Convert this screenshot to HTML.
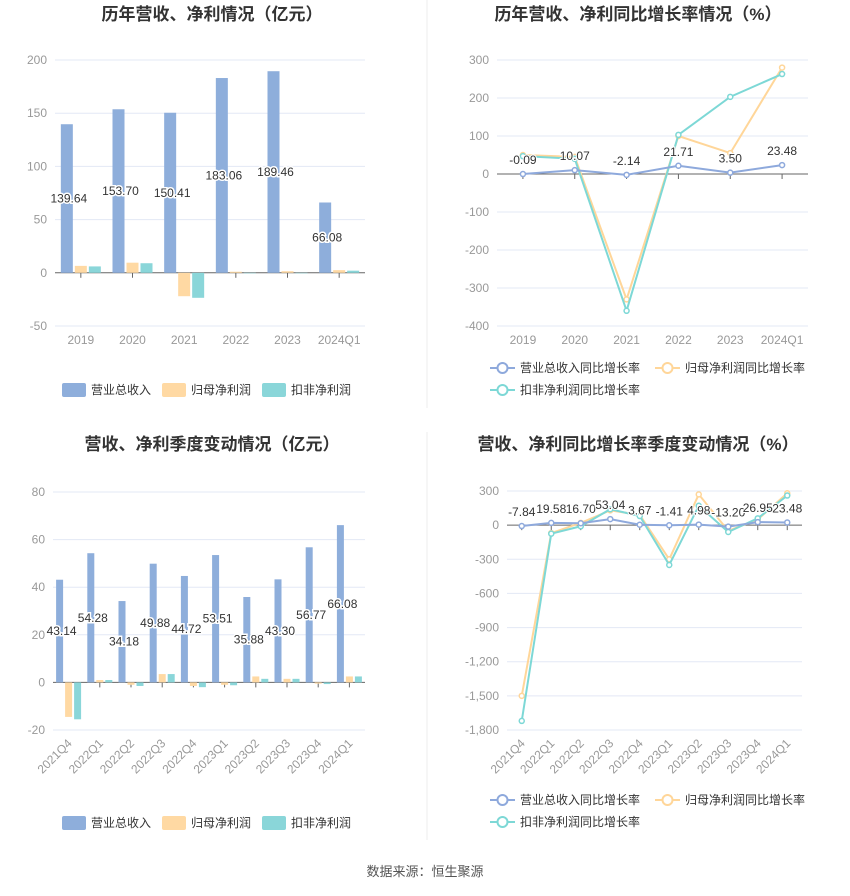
<!DOCTYPE html>
<html><head><meta charset="utf-8"><style>
body{margin:0;background:#fff;font-family:"Liberation Sans","Noto Sans CJK SC",sans-serif}
svg text{font-family:"Liberation Sans","Noto Sans CJK SC",sans-serif}
</style></head><body>
<svg id="s" width="850" height="891" xmlns="http://www.w3.org/2000/svg">
<line x1="427" y1="0" x2="427" y2="408" stroke="#eee"/>
<line x1="427" y1="432" x2="427" y2="840" stroke="#eee"/>
<text x="212" y="20" text-anchor="middle" font-size="17" font-weight="bold" fill="#333">历年营收、净利情况（亿元）</text>
<text x="638" y="20" text-anchor="middle" font-size="17" font-weight="bold" fill="#333">历年营收、净利同比增长率情况（%）</text>
<text x="212" y="450" text-anchor="middle" font-size="17" font-weight="bold" fill="#333">营收、净利季度变动情况（亿元）</text>
<text x="638" y="450" text-anchor="middle" font-size="17" font-weight="bold" fill="#333">营收、净利同比增长率季度变动情况（%）</text>
<text x="425" y="876" text-anchor="middle" font-size="13" fill="#555">数据来源：恒生聚源</text>
</svg>
<script>
const yearCats=["2019","2020","2021","2022","2023","2024Q1"];
const yearRev=[139.64,153.70,150.41,183.06,189.46,66.08];
const yearNet=[6.5,9.5,-22,1,1.5,2.5];
const yearDed=[6,9,-23.5,0,0,2];
const yearTicks=[200,150,100,50,0,-50];
const yearRevG=[-0.09,10.07,-2.14,21.71,3.50,23.48];
const yearNetG=[50,45,-330,100,55,280];
const yearDedG=[47,40,-360,103,203,263];
const yearGTicks=[300,200,100,0,-100,-200,-300,-400];
const qCats=["2021Q4","2022Q1","2022Q2","2022Q3","2022Q4","2023Q1","2023Q2","2023Q3","2023Q4","2024Q1"];
const qRev=[43.14,54.28,34.18,49.88,44.72,53.51,35.88,43.30,56.77,66.08];
const qNet=[-14.5,1,-1,3.5,-1.5,-1,2.5,1.5,-0.5,2.5];
const qDed=[-15.5,1,-1.5,3.5,-2,-1.2,1.5,1.5,-0.7,2.5];
const qTicks=[80,60,40,20,0,-20];
const qRevG=[-7.84,19.58,16.70,53.04,3.67,-1.41,4.98,-13.20,26.95,23.48];
const qNetG=[-1500,-70,20,130,90,-300,270,-50,50,280];
const qDedG=[-1720,-75,-10,140,80,-350,170,-60,60,260];
const qGTicks=[300,0,-300,-600,-900,-1200,-1500,-1800];

const svg=document.getElementById('s');const NS="http://www.w3.org/2000/svg";
function mk(t,a,txt){const e=document.createElementNS(NS,t);for(const k in a)e.setAttribute(k,a[k]);if(txt!==undefined)e.textContent=txt;svg.appendChild(e);return e;}
const BLUE="#8eaedb",ORG="#ffd9a3",TEAL="#8ad6d9",LB="#8ea9dc",LO="#ffd699",LT="#7dd8d6";
function fmt(v){return Math.abs(v)>=1000?v.toLocaleString('en-US'):String(v);}

function axes(x0,x1,yTop,yBot,ticks,cats,rot,pre){
 const max=ticks[0],min=ticks[ticks.length-1];
 const y=v=>yTop+(max-v)/(max-min)*(yBot-yTop);
 const w=(x1-x0)/cats.length;const cx=i=>x0+w*(i+0.5);
 ticks.forEach(t=>{
  if(t!==0){const l=mk('line',{x1:x0,x2:x1,y1:y(t),y2:y(t),stroke:'#e3e8f5'});
   
   }
  const tx=mk('text',{x:x0-8,y:y(t)+4,'text-anchor':'end','font-size':12,fill:'#999'},fmt(t));
  
  
 });
 const ax=mk('line',{x1:x0,x2:x1,y1:y(0),y2:y(0),stroke:'#666'});
 
 
 cats.forEach((c,i)=>{
  mk('line',{x1:cx(i),x2:cx(i),y1:y(0),y2:y(0)+5,stroke:'#666'});
  let t;
  if(rot){t=mk('text',{x:cx(i)+4,y:yBot+14,'text-anchor':'end','font-size':12,fill:'#999',transform:`rotate(-45 ${cx(i)+4} ${yBot+14})`},c);}
  else t=mk('text',{x:cx(i),y:yBot+18,'text-anchor':'middle','font-size':12,fill:'#999'},c);
  
  
 });
 return {y,cx,w};
}
function bars(x0,x1,yTop,yBot,ticks,cats,rev,net,ded,bw,rot,pre){
 const {y,cx}=axes(x0,x1,yTop,yBot,ticks,cats,rot,pre);
 const series=[[rev,BLUE,'revenue'],[net,ORG,'net-profit'],[ded,TEAL,'deducted-profit']];
 cats.forEach((c,i)=>{
  series.forEach((s,k)=>{
   const v=s[0][i];const bx=cx(i)+(k-1)*(bw+2)-bw/2;
   const r=mk('rect',{x:bx,y:Math.min(y(v),y(0)),width:bw,height:Math.max(Math.abs(y(v)-y(0)),0.5),fill:s[1]});
   
   
  });
  const bxc=cx(i)-(bw+2);
  const t=mk('text',{x:bxc+2,y:(y(rev[i])+y(0))/2+4,'text-anchor':'middle','font-size':12,fill:'#333',stroke:'#fff','stroke-width':3,'paint-order':'stroke'},rev[i].toFixed(2));
  
  
 });
}
function lines(x0,x1,yTop,yBot,ticks,cats,a,b,c,rot,pre){
 const {y,cx}=axes(x0,x1,yTop,yBot,ticks,cats,rot,pre);
 [[b,LO,'net-growth'],[c,LT,'deducted-growth'],[a,LB,'revenue-growth']].forEach(s=>{
  const p=mk('polyline',{points:s[0].map((v,i)=>cx(i)+','+y(v)).join(' '),fill:'none',stroke:s[1],'stroke-width':2});
  
  
  s[0].forEach((v,i)=>{const d=mk('circle',{cx:cx(i),cy:y(v),r:2.5,fill:'#fff',stroke:s[1],'stroke-width':1.5});
   
   });
 });
 a.forEach((v,i)=>{const t=mk('text',{x:cx(i),y:y(v)-10,'text-anchor':'middle','font-size':12,fill:'#333',stroke:'#fff','stroke-width':2,'paint-order':'stroke'},v.toFixed(2));
  
  });
}
function barLegend(yy,pre){
 [[62,BLUE,'营业总收入'],[162,ORG,'归母净利润'],[262,TEAL,'扣非净利润']].forEach(l=>{
  const r=mk('rect',{x:l[0],y:yy-7,width:24,height:14,rx:2,fill:l[1]});
  
  
  const t=mk('text',{x:l[0]+29,y:yy+4,'font-size':12,fill:'#333'},l[2]);
  
  
 });
}
function lineLegend(yy,pre){
 [[490,yy,LB,'营业总收入同比增长率'],[655,yy,LO,'归母净利润同比增长率'],[490,yy+22,LT,'扣非净利润同比增长率']].forEach(l=>{
  mk('line',{x1:l[0],x2:l[0]+25,y1:l[1],y2:l[1],stroke:l[2],'stroke-width':2});
  const c=mk('circle',{cx:l[0]+12.5,cy:l[1],r:5,fill:'#fff',stroke:l[2],'stroke-width':2});
  
  
  const t=mk('text',{x:l[0]+30,y:l[1]+4,'font-size':12,fill:'#333'},l[3]);
  
  
 });
}
bars(55,365,60,326,yearTicks,yearCats,yearRev,yearNet,yearDed,12,false,'annual');
barLegend(390,'annual');
lines(497,808,60,326,yearGTicks,yearCats,yearRevG,yearNetG,yearDedG,false,'annual-growth');
lineLegend(368,'annual-growth');
bars(53,365,492,730,qTicks,qCats,qRev,qNet,qDed,7,true,'quarterly');
barLegend(823,'quarterly');
lines(507,802,491,730,qGTicks,qCats,qRevG,qNetG,qDedG,true,'quarterly-growth');
lineLegend(800,'quarterly-growth');
</script>
</body></html>
